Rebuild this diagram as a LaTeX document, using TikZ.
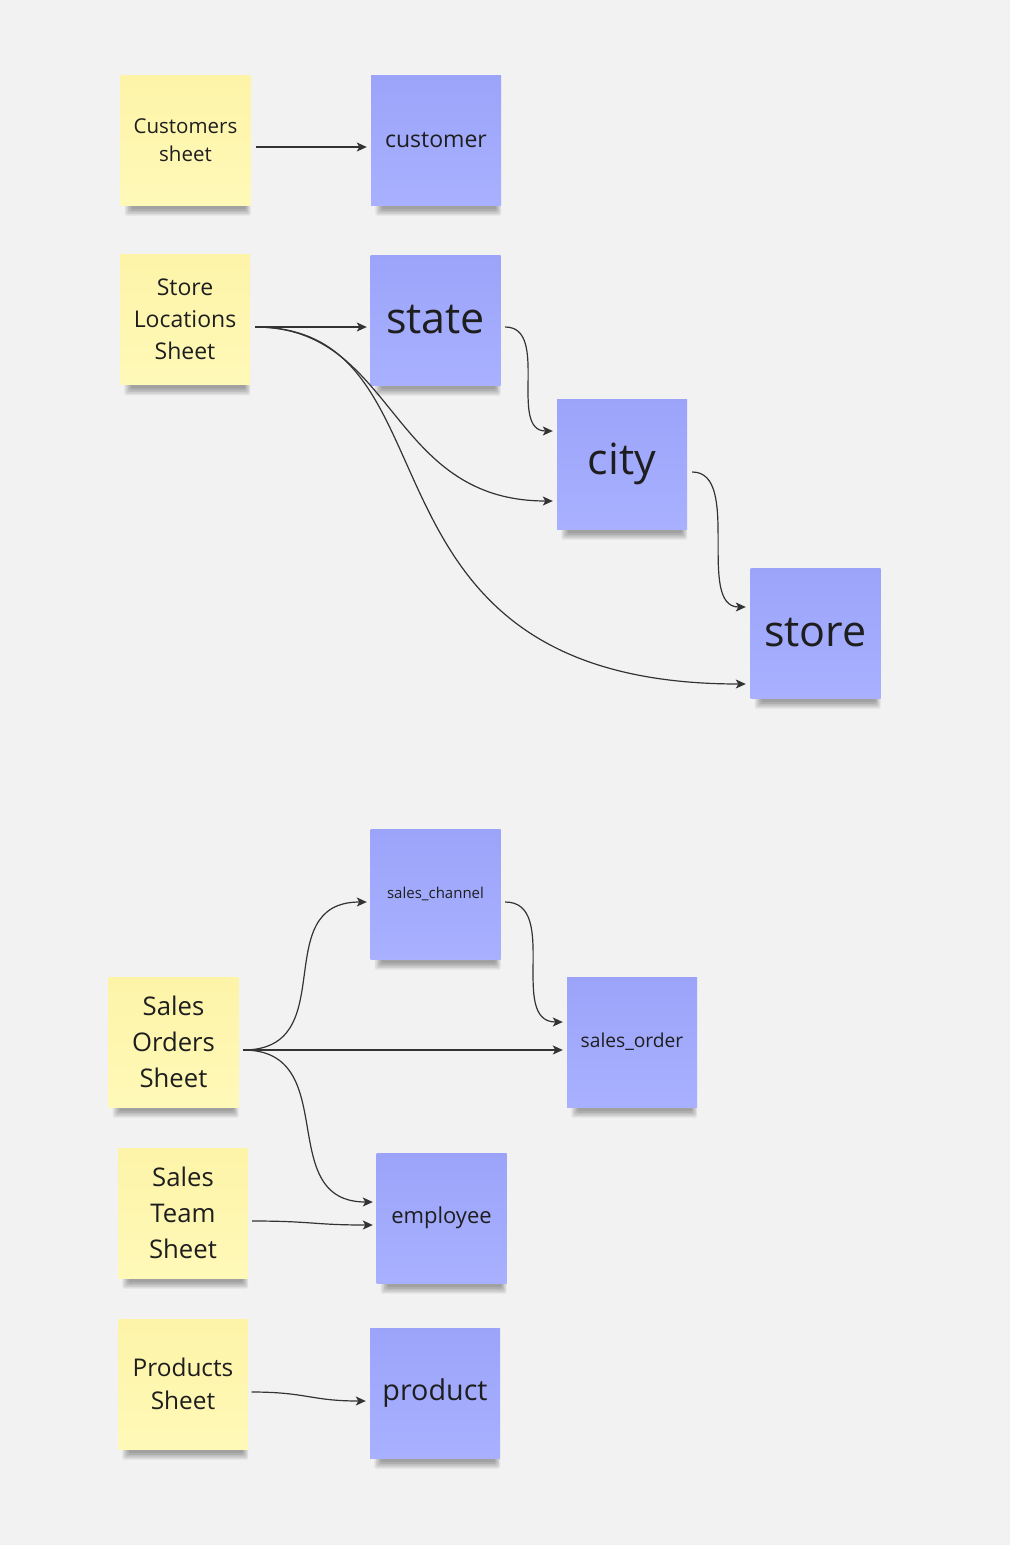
\documentclass[tikz,border=0pt]{standalone}
\usepackage{fontspec}
\setmainfont{Open Sans}
\usetikzlibrary{arrows.meta,backgrounds}
\definecolor{bgcol}{HTML}{F2F2F2}
\definecolor{ytop}{HTML}{FDF4A8}
\definecolor{ybot}{HTML}{FFF9B8}
\definecolor{btop}{HTML}{9CA4FA}
\definecolor{bbot}{HTML}{A8B0FF}
\definecolor{txtcol}{HTML}{1E1E1E}
\definecolor{linecol}{HTML}{333333}
\tikzset{
  note/.style={rectangle, minimum width=130pt, minimum height=130pt, inner sep=0pt,
    align=center, text=txtcol},
  ynote/.style={note, top color=ytop, bottom color=ybot},
  bnote/.style={note, top color=btop, bottom color=bbot},
  conn/.style={draw=linecol, line width=1.2pt,
    -{Stealth[length=10pt,width=9pt,inset=2.5pt]}},
}
\newcommand{\fs}[2]{\fontsize{#1}{#2}\selectfont}
\begin{document}
\begin{tikzpicture}[x=1pt,y=-1pt]
\useasboundingbox (0,0) rectangle (1010,1545);

% yellow source notes
\node[ynote, font=\fs{20.5}{28}] (cs) at (185.5,140) {Customers\\sheet};
\node[ynote, font=\fs{23}{32}] (sl) at (185,319.5) {Store\\Locations\\Sheet};
\node[ynote, font=\fs{25.7}{36}] (so) at (173.5,1042) {Sales\\Orders\\Sheet};
\node[ynote, font=\fs{25.7}{36}] (st) at (183,1213) {Sales\\Team\\Sheet};
\node[ynote, font=\fs{24.4}{33}] (ps) at (183,1384) {Products\\Sheet};

% blue table notes
\node[bnote, font=\fs{23}{28}] (customer) at (436,140) {customer};
\node[bnote, font=\fs{43}{50}] (state) at (435.5,320) {state};
\node[bnote, font=\fs{43}{50}] (city) at (622,464) {city};
\node[bnote, font=\fs{43}{50}] (store) at (815.5,633) {store};
\node[bnote, font=\fs{15}{18}] (sch) at (435.5,894) {sales\_channel};
\node[bnote, font=\fs{19.2}{23}] (sorder) at (632,1042) {sales\_order};
\node[bnote, font=\fs{22}{26}] (emp) at (441.5,1218) {employee};
\node[bnote, font=\fs{28.7}{34}] (prod) at (435,1393) {product};

% background and shadows under the notes
\begin{scope}[on background layer]
\fill[bgcol] (0,0) rectangle (1010,1545);
\foreach \n in {cs,sl,so,st,ps,customer,state,city,store,sch,sorder,emp,prod}{
  \foreach \i in {0,...,4}{
    \pgfmathsetmacro\lx{11-1.6*\i}
    \pgfmathsetmacro\rx{-5+1.2*\i}
    \pgfmathsetmacro\by{-4-1.6*\i}
    \fill[black, opacity=0.075, rounded corners=2pt]
      ([xshift=\lx pt, yshift=2pt]\n.south west) rectangle ([xshift=\rx pt, yshift=\by pt]\n.south east);
  }
}
\end{scope}

% connectors
\draw[conn] ([xshift=5pt,yshift=-7pt]cs.east) -- ([xshift=-4pt,yshift=-7pt]customer.west);
\draw[conn] ([xshift=5pt,yshift=-7.5pt]sl.east) -- ([xshift=-3.5pt,yshift=-7pt]state.west);
\draw[conn] ([xshift=5pt,yshift=-7.5pt]sl.east) .. controls +(141,0) and +(-165,0) .. ([xshift=-4pt,yshift=-37pt]city.west);
\draw[conn] ([xshift=5pt,yshift=-7.5pt]sl.east) .. controls +(214,0) and +(-411,0) .. ([xshift=-4.5pt,yshift=-51pt]store.west);
\draw[conn] ([xshift=4.5pt,yshift=-7pt]state.east) .. controls +(45,0) and +(-45,0) .. ([xshift=-4pt,yshift=33pt]city.west);
\draw[conn] ([xshift=5pt,yshift=-8pt]city.east) .. controls +(50,0) and +(-50,0) .. ([xshift=-4.5pt,yshift=26pt]store.west);
\draw[conn] ([xshift=4.5pt,yshift=-8pt]so.east) .. controls +(100,0) and +(-100,0) .. ([xshift=-3.5pt,yshift=-8pt]sch.west);
\draw[conn] ([xshift=4.5pt,yshift=-8pt]so.east) -- ([xshift=-4pt,yshift=-8pt]sorder.west);
\draw[conn] ([xshift=4.5pt,yshift=-8pt]so.east) .. controls +(100,0) and +(-100,0) .. ([xshift=-3.5pt,yshift=16pt]emp.west);
\draw[conn] ([xshift=4.5pt,yshift=-8pt]sch.east) .. controls +(55,0) and +(-55,0) .. ([xshift=-4pt,yshift=20pt]sorder.west);
\draw[conn] ([xshift=4pt,yshift=-8pt]st.east) .. controls +(60,0) and +(-60,0) .. ([xshift=-3.5pt,yshift=-7pt]emp.west);
\draw[conn] ([xshift=3.5pt,yshift=-8pt]ps.east) .. controls +(55,0) and +(-55,0) .. ([xshift=-4pt,yshift=-8pt]prod.west);
\end{tikzpicture}
\end{document}
